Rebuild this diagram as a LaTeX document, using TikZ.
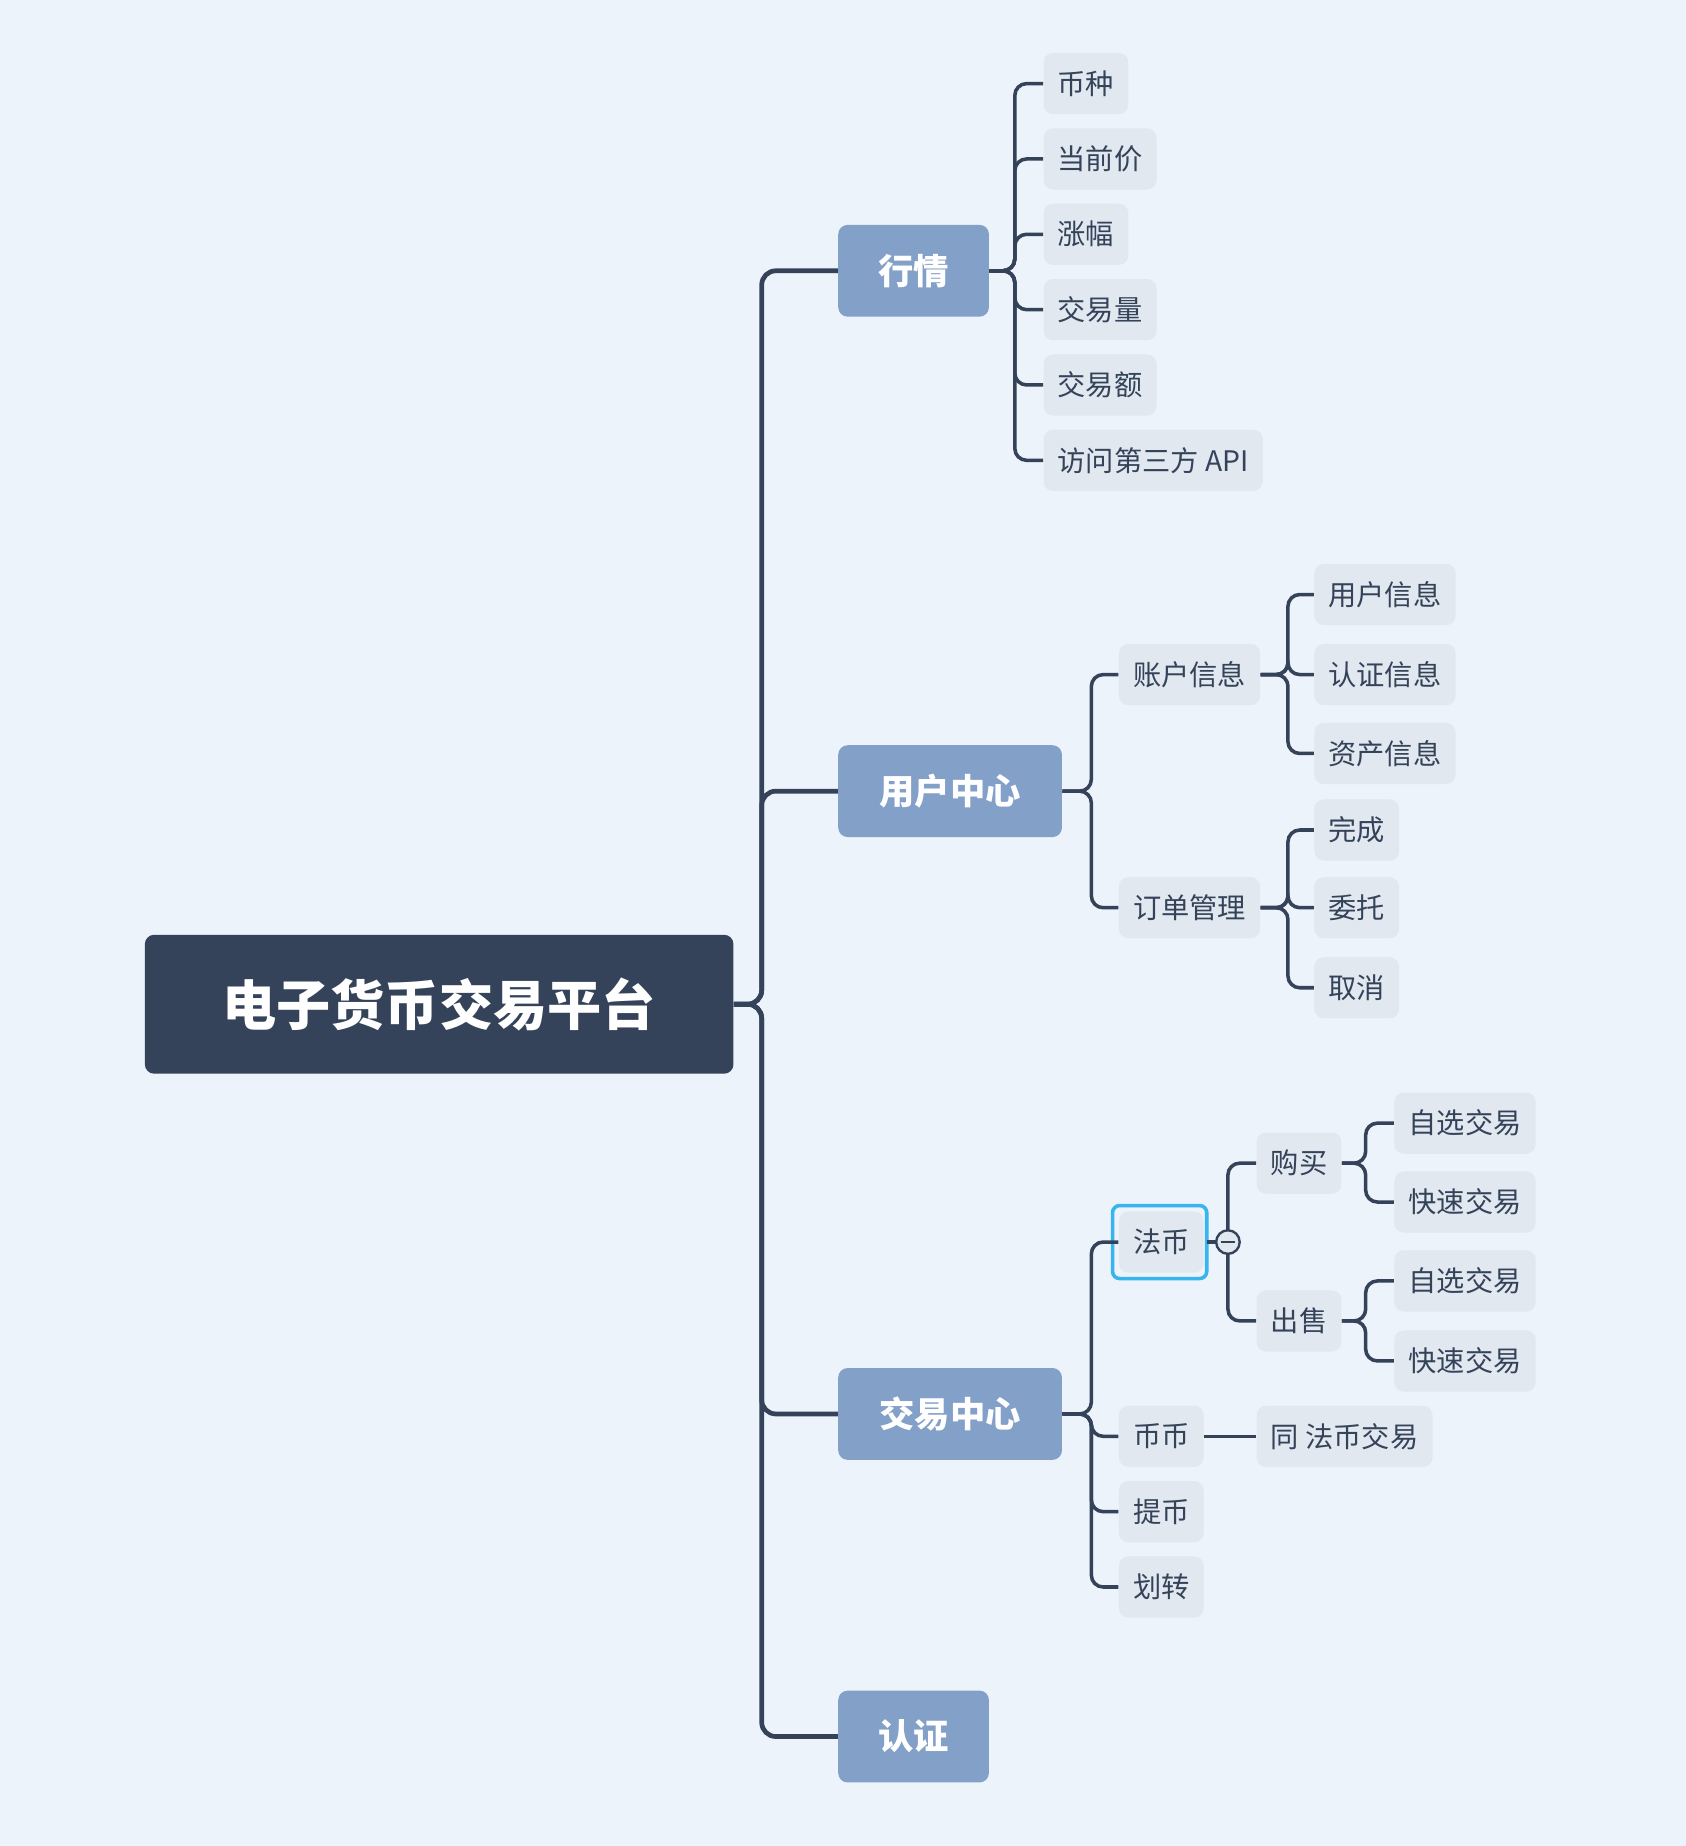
\documentclass[tikz,border=0pt]{standalone}
\usepackage{fontspec}
\usetikzlibrary{calc}
\setmainfont{Noto Sans CJK SC}
\begin{document}
\definecolor{bg}{HTML}{ECF3FA}
\definecolor{dark}{HTML}{344359}
\definecolor{mid}{HTML}{83A0C8}
\definecolor{leaf}{HTML}{E2E8F0}
\definecolor{sel}{HTML}{38B4EE}
\begin{tikzpicture}[x=0.5pt,y=-0.5pt,
  root/.style={fill=dark,text=white,rounded corners=4pt,minimum width=250pt,minimum height=59pt,font=\fontsize{23}{26}\selectfont\bfseries},
  l1/.style={fill=mid,text=white,rounded corners=4pt,minimum height=39pt,inner xsep=16pt,font=\fontsize{15}{18}\selectfont\bfseries},
  lf/.style={fill=leaf,text=dark,rounded corners=4pt,minimum height=26pt,inner xsep=6pt,anchor=west,font=\fontsize{12}{14}\selectfont},
  conn/.style={draw=dark,line width=2pt,rounded corners=6pt},
  cs/.style={draw=dark,line width=1.5pt,rounded corners=5pt}]
\fill[bg] (0,0) rectangle (1432,1568);
\node[root] (r) at (373,853) {电子货币交易平台};
\node[l1,minimum width=64pt] (hq) at (776,230) {行情};
\node[l1,minimum width=95pt] (yh) at (807,672) {用户中心};
\node[l1,minimum width=95pt] (jy) at (807,1201) {交易中心};
\node[l1,minimum width=64pt] (rz) at (776,1475) {认证};
\foreach \n in {hq,yh,jy,rz}{\draw[conn] (r.east) -- (647,853) |- (\n.west);}
% 行情
\node[lf] (a1) at (886,71) {币种};
\node[lf] (a2) at (886,135) {当前价};
\node[lf] (a3) at (886,199) {涨幅};
\node[lf] (a4) at (886,263) {交易量};
\node[lf] (a5) at (886,327) {交易额};
\node[lf] (a6) at (886,391) {访问第三方 API};
\foreach \n in {a1,a2,a3,a4,a5,a6}{\draw[cs] (hq.east) -- (862,230) |- (\n.west);}
% 用户中心
\node[lf] (b1) at (950,573) {账户信息};
\node[lf] (b2) at (950,771) {订单管理};
\foreach \n in {b1,b2}{\draw[cs] (yh.east) -- (927,672) |- (\n.west);}
\node[lf] (c1) at (1116,505) {用户信息};
\node[lf] (c2) at (1116,573) {认证信息};
\node[lf] (c3) at (1116,640) {资产信息};
\foreach \n in {c1,c2,c3}{\draw[cs] (b1.east) -- (1094,573) |- (\n.west);}
\node[lf] (d1) at (1116,705) {完成};
\node[lf] (d2) at (1116,771) {委托};
\node[lf] (d3) at (1116,839) {取消};
\foreach \n in {d1,d2,d3}{\draw[cs] (b2.east) -- (1094,771) |- (\n.west);}
% 交易中心
\node[lf] (e1) at (950,1055) {法币};
\node[lf] (e2) at (950,1220) {币币};
\node[lf] (e3) at (950,1284) {提币};
\node[lf] (e4) at (950,1348) {划转};
\draw[sel,line width=1.5pt,rounded corners=3pt] (945,1024) rectangle (1025,1086);
\foreach \n in {e1,e2,e3,e4}{\draw[cs] (jy.east) -- (927,1201) |- (\n.west);}
\node[lf] (f1) at (1067,988) {购买};
\node[lf] (f2) at (1067,1122) {出售};
\coordinate (fb) at (1043,1055);
\draw[cs] (1025,1055) -- (fb);
\foreach \n in {f1,f2}{\draw[cs] (fb) |- (\n.west);}
\node[circle,draw=dark,line width=1pt,fill=leaf,minimum size=10pt,inner sep=0pt] (tg) at (fb) {};
\draw[dark,line width=1pt] ($(tg.center)+(-6,0)$) -- ($(tg.center)+(6,0)$);
\node[lf] (g1) at (1184,954) {自选交易};
\node[lf] (g2) at (1184,1021) {快速交易};
\foreach \n in {g1,g2}{\draw[cs] (f1.east) -- (1160,988) |- (\n.west);}
\node[lf] (h1) at (1184,1088) {自选交易};
\node[lf] (h2) at (1184,1156) {快速交易};
\foreach \n in {h1,h2}{\draw[cs] (f2.east) -- (1160,1122) |- (\n.west);}
\node[lf] (i1) at (1067,1220) {同 法币交易};
\draw[cs] (e2.east) -- (i1.west);
\end{tikzpicture}
\end{document}
